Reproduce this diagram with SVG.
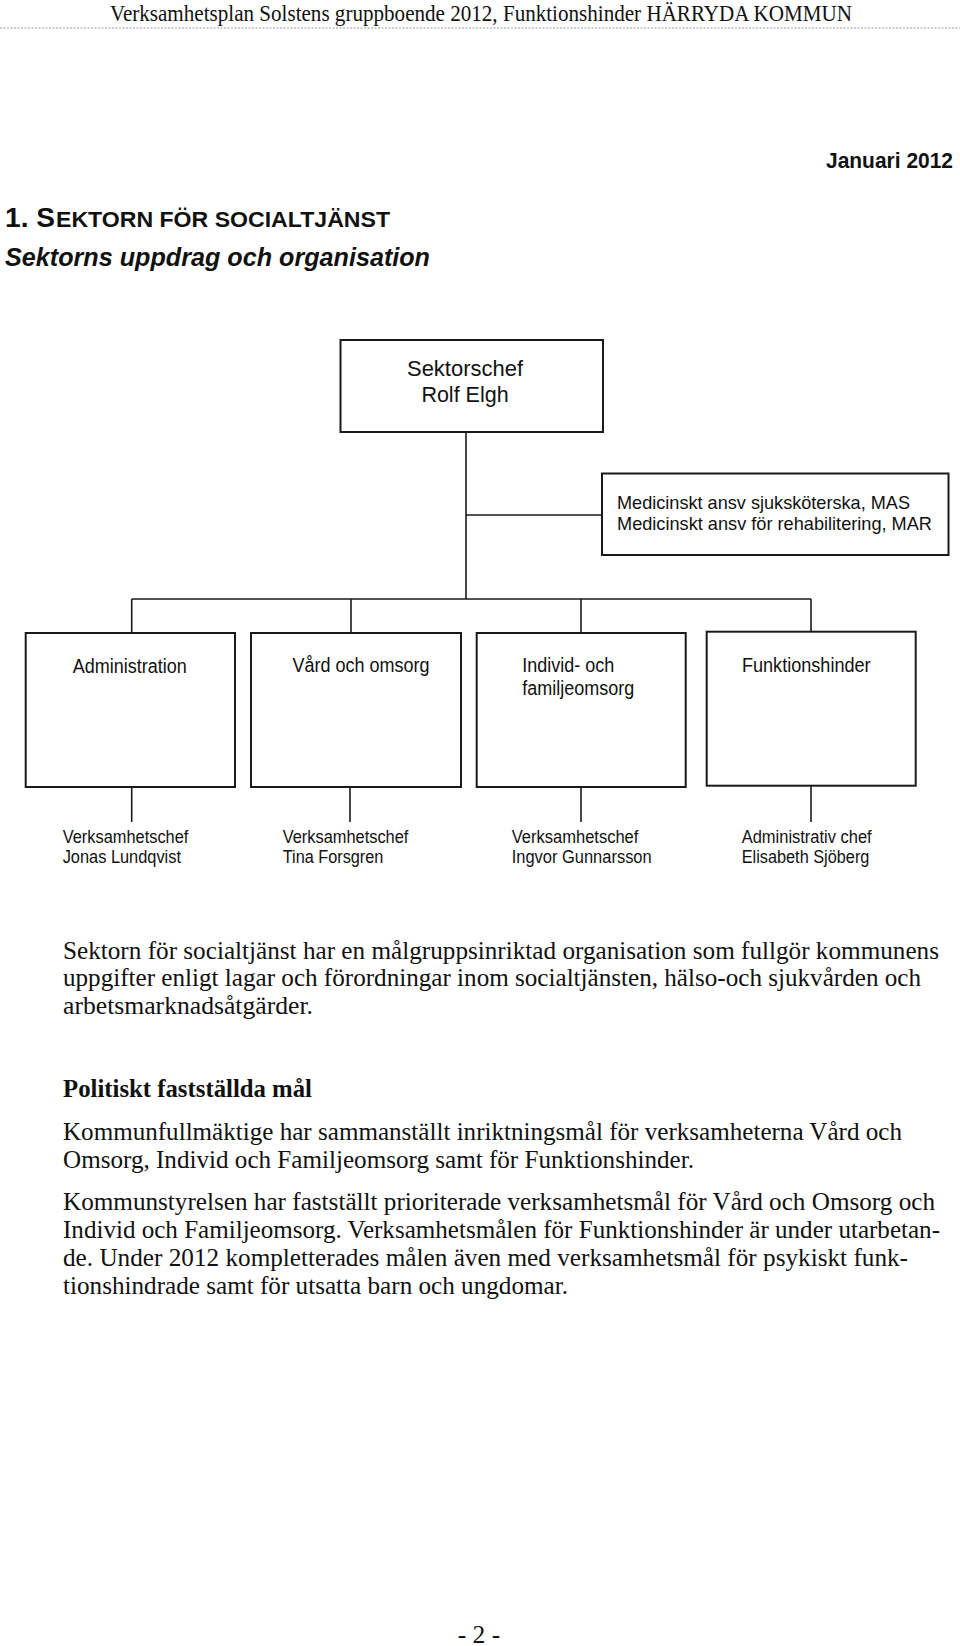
<svg xmlns="http://www.w3.org/2000/svg" width="960" height="1646" viewBox="0 0 960 1646">
<style>
.box{fill:#fff;stroke:#1a1a1a;stroke-width:2}
.ln{stroke:#1a1a1a;stroke-width:1.6;fill:none}
.sans{font-family:"Liberation Sans",Arial,sans-serif;fill:#111}
.serif{font-family:"Liberation Serif","Times New Roman",serif;fill:#111}
.lbl{font-size:19.5px}
.sub{font-size:17.5px}
.body{font-size:25.5px}
</style>
<rect width="960" height="1646" fill="#fff"/>
<g id="header">
<text class="serif" x="110" y="21" font-size="23" textLength="742" lengthAdjust="spacingAndGlyphs">Verksamhetsplan Solstens gruppboende 2012, Funktionshinder HÄRRYDA KOMMUN</text>
<line x1="0" y1="28" x2="960" y2="28" stroke="#9a9a9a" stroke-width="1.2" stroke-dasharray="2 1.5"/>
</g>
<g id="titles">
<text class="sans" x="826" y="168" font-size="21.5" font-weight="bold" textLength="127" lengthAdjust="spacingAndGlyphs">Januari 2012</text>
<text class="sans" x="5" y="227" font-size="27" font-weight="bold" textLength="50" lengthAdjust="spacingAndGlyphs">1. S</text>
<text class="sans" x="56" y="227" font-size="21.5" font-weight="bold" textLength="334" lengthAdjust="spacingAndGlyphs">EKTORN FÖR SOCIALTJÄNST</text>
<text class="sans" x="5" y="266" font-size="25.5" font-weight="bold" font-style="italic" textLength="425" lengthAdjust="spacingAndGlyphs">Sektorns uppdrag och organisation</text>
</g>
<g id="connectors">
<line class="ln" x1="466" y1="432" x2="466" y2="599"/>
<line class="ln" x1="466" y1="515" x2="602" y2="515"/>
<line class="ln" x1="131.7" y1="599" x2="811" y2="599"/>
<line class="ln" x1="131.7" y1="599" x2="131.7" y2="633"/>
<line class="ln" x1="351" y1="599" x2="351" y2="633"/>
<line class="ln" x1="581" y1="599" x2="581" y2="633"/>
<line class="ln" x1="811" y1="599" x2="811" y2="632"/>
<line class="ln" x1="131.7" y1="787" x2="131.7" y2="822"/>
<line class="ln" x1="350" y1="787" x2="350" y2="822"/>
<line class="ln" x1="581" y1="787" x2="581" y2="822"/>
<line class="ln" x1="811" y1="786" x2="811" y2="822"/>
</g>
<g id="sektorschef">
<rect class="box" x="340.5" y="340" width="262.5" height="92"/>
<text class="sans" x="465" y="376" font-size="21.5" text-anchor="middle" textLength="116" lengthAdjust="spacingAndGlyphs">Sektorschef</text>
<text class="sans" x="465" y="402" font-size="21.5" text-anchor="middle">Rolf Elgh</text>
</g>
<g id="medicinskt">
<rect class="box" x="602" y="473.5" width="346.5" height="81.5"/>
<text class="sans" x="617" y="509" font-size="18.5" textLength="293" lengthAdjust="spacingAndGlyphs">Medicinskt ansv sjuksköterska, MAS</text>
<text class="sans" x="617" y="530" font-size="18.5" textLength="315" lengthAdjust="spacingAndGlyphs">Medicinskt ansv för rehabilitering, MAR</text>
</g>
<g id="administration">
<rect class="box" x="25.7" y="633" width="209.3" height="154"/>
<text class="sans lbl" x="129.7" y="673" text-anchor="middle" textLength="114" lengthAdjust="spacingAndGlyphs">Administration</text>
</g>
<g id="vard">
<rect class="box" x="251" y="633" width="210" height="154"/>
<text class="sans lbl" x="361" y="671.7" text-anchor="middle" textLength="137" lengthAdjust="spacingAndGlyphs">Vård och omsorg</text>
</g>
<g id="individ">
<rect class="box" x="476.7" y="633" width="209" height="154"/>
<text class="sans lbl" x="522.3" y="672.3" textLength="92" lengthAdjust="spacingAndGlyphs">Individ- och</text>
<text class="sans lbl" x="522.3" y="695" textLength="112" lengthAdjust="spacingAndGlyphs">familjeomsorg</text>
</g>
<g id="funktionshinder">
<rect class="box" x="706.7" y="631.7" width="209" height="154"/>
<text class="sans lbl" x="806.3" y="672" text-anchor="middle" textLength="128.7" lengthAdjust="spacingAndGlyphs">Funktionshinder</text>
</g>
<g id="chef1">
<text class="sans sub" x="62.7" y="843" textLength="125.7" lengthAdjust="spacingAndGlyphs">Verksamhetschef</text>
<text class="sans sub" x="62.7" y="863" textLength="118.3" lengthAdjust="spacingAndGlyphs">Jonas Lundqvist</text>
</g>
<g id="chef2">
<text class="sans sub" x="282.7" y="843" textLength="125.7" lengthAdjust="spacingAndGlyphs">Verksamhetschef</text>
<text class="sans sub" x="282.7" y="863" textLength="100.7" lengthAdjust="spacingAndGlyphs">Tina Forsgren</text>
</g>
<g id="chef3">
<text class="sans sub" x="511.7" y="843" textLength="126.7" lengthAdjust="spacingAndGlyphs">Verksamhetschef</text>
<text class="sans sub" x="511.7" y="863" textLength="140" lengthAdjust="spacingAndGlyphs">Ingvor Gunnarsson</text>
</g>
<g id="chef4">
<text class="sans sub" x="741.7" y="843" textLength="130" lengthAdjust="spacingAndGlyphs">Administrativ chef</text>
<text class="sans sub" x="741.7" y="863" textLength="127.7" lengthAdjust="spacingAndGlyphs">Elisabeth Sjöberg</text>
</g>
<g id="bodytext">
<text class="serif body" x="63" y="958.5" textLength="876" lengthAdjust="spacingAndGlyphs">Sektorn för socialtjänst har en målgruppsinriktad organisation som fullgör kommunens</text>
<text class="serif body" x="63" y="985.5" textLength="858" lengthAdjust="spacingAndGlyphs">uppgifter enligt lagar och förordningar inom socialtjänsten, hälso-och sjukvården och</text>
<text class="serif body" x="63" y="1013.5" textLength="250" lengthAdjust="spacingAndGlyphs">arbetsmarknadsåtgärder.</text>
<text class="serif body" x="63" y="1097" font-weight="bold" textLength="249" lengthAdjust="spacingAndGlyphs">Politiskt fastställda mål</text>
<text class="serif body" x="63" y="1139.5" textLength="839" lengthAdjust="spacingAndGlyphs">Kommunfullmäktige har sammanställt inriktningsmål för verksamheterna Vård och</text>
<text class="serif body" x="63" y="1168" textLength="631" lengthAdjust="spacingAndGlyphs">Omsorg, Individ och Familjeomsorg samt för Funktionshinder.</text>
<text class="serif body" x="63" y="1210" textLength="872" lengthAdjust="spacingAndGlyphs">Kommunstyrelsen har fastställt prioriterade verksamhetsmål för Vård och Omsorg och</text>
<text class="serif body" x="63" y="1238" textLength="877" lengthAdjust="spacingAndGlyphs">Individ och Familjeomsorg. Verksamhetsmålen för Funktionshinder är under utarbetan-</text>
<text class="serif body" x="63" y="1266" textLength="845" lengthAdjust="spacingAndGlyphs">de. Under 2012 kompletterades målen även med verksamhetsmål för psykiskt funk-</text>
<text class="serif body" x="63" y="1294" textLength="505" lengthAdjust="spacingAndGlyphs">tionshindrade samt för utsatta barn och ungdomar.</text>
</g>
<g id="footer">
<text class="serif" x="479" y="1643" font-size="25.5" text-anchor="middle">- 2 -</text>
</g>
</svg>
